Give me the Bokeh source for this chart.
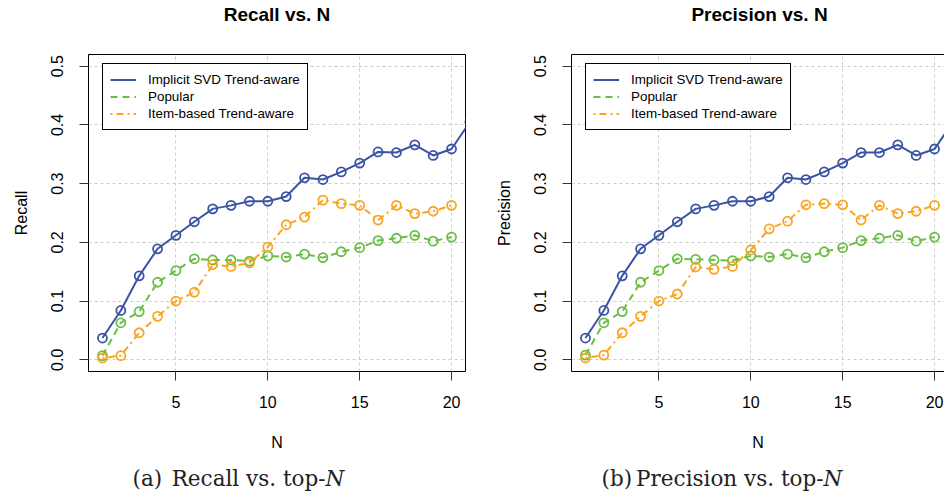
from bokeh.plotting import figure
from bokeh.models import (Range1d, FixedTicker, Legend, LegendItem,
                          LinearAxis, NumeralTickFormatter)
from bokeh.layouts import row, column
from bokeh.embed import file_html
from bokeh.resources import INLINE
from bokeh.core.properties import value

# ---------------- data ----------------
N = list(range(1, 21))
N_svd = list(range(1, 22))

recall_svd = [0.037, 0.084, 0.143, 0.189, 0.212, 0.235, 0.257, 0.263, 0.270, 0.270,
              0.278, 0.310, 0.307, 0.320, 0.335, 0.354, 0.353, 0.366, 0.348, 0.359, 0.405]
recall_pop = [0.007, 0.063, 0.082, 0.132, 0.152, 0.172, 0.170, 0.170, 0.168, 0.177,
              0.175, 0.180, 0.174, 0.184, 0.191, 0.203, 0.207, 0.212, 0.202, 0.209]
recall_item = [0.003, 0.007, 0.046, 0.074, 0.100, 0.115, 0.162, 0.159, 0.165, 0.192,
               0.230, 0.243, 0.272, 0.266, 0.263, 0.238, 0.263, 0.249, 0.253, 0.263]

prec_svd = [0.037, 0.084, 0.143, 0.189, 0.212, 0.235, 0.257, 0.263, 0.270, 0.270,
            0.278, 0.310, 0.307, 0.320, 0.335, 0.353, 0.353, 0.366, 0.348, 0.359, 0.405]
prec_pop = [0.008, 0.063, 0.082, 0.132, 0.152, 0.172, 0.171, 0.170, 0.169, 0.177,
            0.175, 0.180, 0.174, 0.184, 0.191, 0.203, 0.207, 0.212, 0.202, 0.209]
prec_item = [0.003, 0.008, 0.046, 0.074, 0.100, 0.112, 0.158, 0.154, 0.159, 0.187,
             0.223, 0.236, 0.264, 0.266, 0.264, 0.238, 0.263, 0.249, 0.253, 0.263]

x_ticks = [5, 10, 15, 20]
y_ticks = [0.0, 0.1, 0.2, 0.3, 0.4, 0.5]
series_names = ["Implicit SVD Trend-aware", "Popular", "Item-based Trend-aware"]
panel_titles = ["Recall vs. N", "Precision vs. N"]
caption_tags = ["(a)", "(b)"]
caption_bodies = ["Recall vs. top-", "Precision vs. top-"]
caption_math = ["N", "N"]

# ---------------- styling / layout ----------------
BLUE = "#3A54A5"
GREEN = "#6CBD45"
ORANGE = "#FBA41F"
SANS = "Liberation Sans"
SERIF = "DejaVu Serif"

TOTAL_W = 944
TITLE_H = 30
MAIN_H = 430
CAP_H = 36
TOP = 24      # frame top at page y 54
BOTTOM = 89   # frame bottom at page y 371
X0, X1 = 0.24, 20.76
Y0, Y1 = -0.02, 0.52
PX_PER_X = 377 / (X1 - X0)


def make_panel(ylabel, svd, pop, item, width, b_left, b_right, full_box):
    frame_w = width - b_left - b_right
    x_end = X0 + frame_w / PX_PER_X
    p = figure(width=width, height=MAIN_H, output_backend="svg", toolbar_location=None,
               x_range=Range1d(X0, x_end), y_range=Range1d(Y0, Y1),
               min_border_left=b_left, min_border_right=b_right,
               min_border_top=TOP, min_border_bottom=BOTTOM,
               x_axis_label="N", y_axis_label=ylabel, title=None)
    p.background_fill_color = "white"
    p.border_fill_color = "white"

    # grid
    p.xgrid.ticker = FixedTicker(ticks=x_ticks)
    p.ygrid.ticker = FixedTicker(ticks=y_ticks)
    for g in (p.xgrid, p.ygrid):
        g.grid_line_color = "#CCCCCC"
        g.grid_line_dash = "3 3"
        g.grid_line_width = 1

    # axes
    p.xaxis.ticker = FixedTicker(ticks=x_ticks)
    p.yaxis.ticker = FixedTicker(ticks=y_ticks)
    p.yaxis.formatter = NumeralTickFormatter(format="0.0")
    p.yaxis.major_label_orientation = "vertical"
    for ax in (p.xaxis, p.yaxis):
        ax.major_tick_out = 9
        ax.major_tick_in = 0
        ax.minor_tick_out = 0
        ax.minor_tick_in = 0
        ax.major_tick_line_color = "#333333"
        ax.major_label_text_font = SANS
        ax.major_label_text_font_size = "16px"
        ax.major_label_text_color = "black"
        ax.axis_label_text_font = SANS
        ax.axis_label_text_font_size = "16px"
        ax.axis_label_text_font_style = "normal"
        ax.axis_label_text_color = "black"
    p.xaxis.major_label_standoff = 15
    p.yaxis.major_label_standoff = 16
    p.xaxis.axis_label_standoff = 23
    p.yaxis.axis_label_standoff = 19

    if full_box:
        p.outline_line_color = "black"
        p.outline_line_width = 1
        p.outline_line_alpha = 1
        p.xaxis.axis_line_color = None
        p.yaxis.axis_line_color = None
    else:
        p.outline_line_color = None
        p.xaxis.axis_line_color = "black"
        p.yaxis.axis_line_color = "black"
        top_ax = LinearAxis(ticker=FixedTicker(ticks=[]), axis_line_color="black",
                            major_tick_line_color=None, minor_tick_line_color=None,
                            major_label_text_font_size="0px")
        p.add_layout(top_ax, "above")

    # data
    r1 = p.line(N_svd, svd, line_color=BLUE, line_width=2)
    p.scatter(N_svd, svd, marker="circle", size=9, fill_color=None,
              line_color=BLUE, line_width=1.8)
    r2 = p.line(N, pop, line_color=GREEN, line_width=2, line_dash="7 5")
    p.scatter(N, pop, marker="circle", size=9, fill_color=None,
              line_color=GREEN, line_width=1.8)
    r3 = p.line(N, item, line_color=ORANGE, line_width=2, line_dash="2 4 7 4")
    p.scatter(N, item, marker="circle", size=9, fill_color=None,
              line_color=ORANGE, line_width=1.8)

    legend = Legend(items=[LegendItem(label=series_names[0], renderers=[r1]),
                           LegendItem(label=series_names[1], renderers=[r2]),
                           LegendItem(label=series_names[2], renderers=[r3])],
                    location=(14, 241))
    legend.border_line_color = "black"
    legend.border_line_width = 1
    legend.border_line_alpha = 1
    legend.background_fill_color = "white"
    legend.background_fill_alpha = 1
    legend.label_text_font = SANS
    legend.label_text_font_size = "13.4px"
    legend.label_text_color = "black"
    legend.glyph_width = 26
    legend.glyph_height = 17
    legend.label_height = 17
    legend.label_standoff = 12
    legend.padding = 7
    legend.spacing = 0
    legend.margin = 0
    p.add_layout(legend)
    return p


def strip(height, y_top):
    s = figure(width=TOTAL_W, height=height, output_backend="svg", toolbar_location=None,
               x_range=Range1d(0, TOTAL_W), y_range=Range1d(y_top + height, y_top),
               x_axis_type=None, y_axis_type=None, title=None,
               min_border_left=0, min_border_right=0, min_border_top=0, min_border_bottom=0)
    s.outline_line_color = None
    s.background_fill_color = "white"
    s.border_fill_color = "white"
    s.xgrid.visible = False
    s.ygrid.visible = False
    return s


# titles strip (page pixel coordinates)
ts = strip(TITLE_H, 0)
ts.text(x=[276.5, 759], y=[14, 14], text=panel_titles, text_align="center",
        text_baseline="middle", text_font=value(SANS), text_font_size="19px",
        text_font_style="bold", text_color="black")

p1 = make_panel("Recall", recall_svd, recall_pop, recall_item,
                width=480, b_left=88, b_right=15, full_box=True)
p2 = make_panel("Precision", prec_svd, prec_pop, prec_item,
                width=TOTAL_W - 480, b_left=91, b_right=0, full_box=False)

# captions strip (page pixel coordinates)
cs = strip(CAP_H, TITLE_H + MAIN_H)
CAP_Y = 477.5
cs.text(x=[132, 601], y=[CAP_Y, CAP_Y], text=caption_tags, text_align="left",
        text_baseline="middle", text_font=value(SERIF), text_font_size="21.5px",
        text_color="#222222")
cs.text(x=[325, 823], y=[CAP_Y, CAP_Y], text=caption_bodies, text_align="right",
        text_baseline="middle", text_font=value(SERIF), text_font_size="21.5px",
        text_color="#222222")
cs.text(x=[325, 823], y=[CAP_Y, CAP_Y], text=caption_math, text_align="left",
        text_baseline="middle", text_font=value(SERIF), text_font_size="21.5px",
        text_font_style="italic", text_color="#222222")

layout = column(ts, row(p1, p2), cs)
open("out.html", "w").write(file_html(layout, INLINE))
